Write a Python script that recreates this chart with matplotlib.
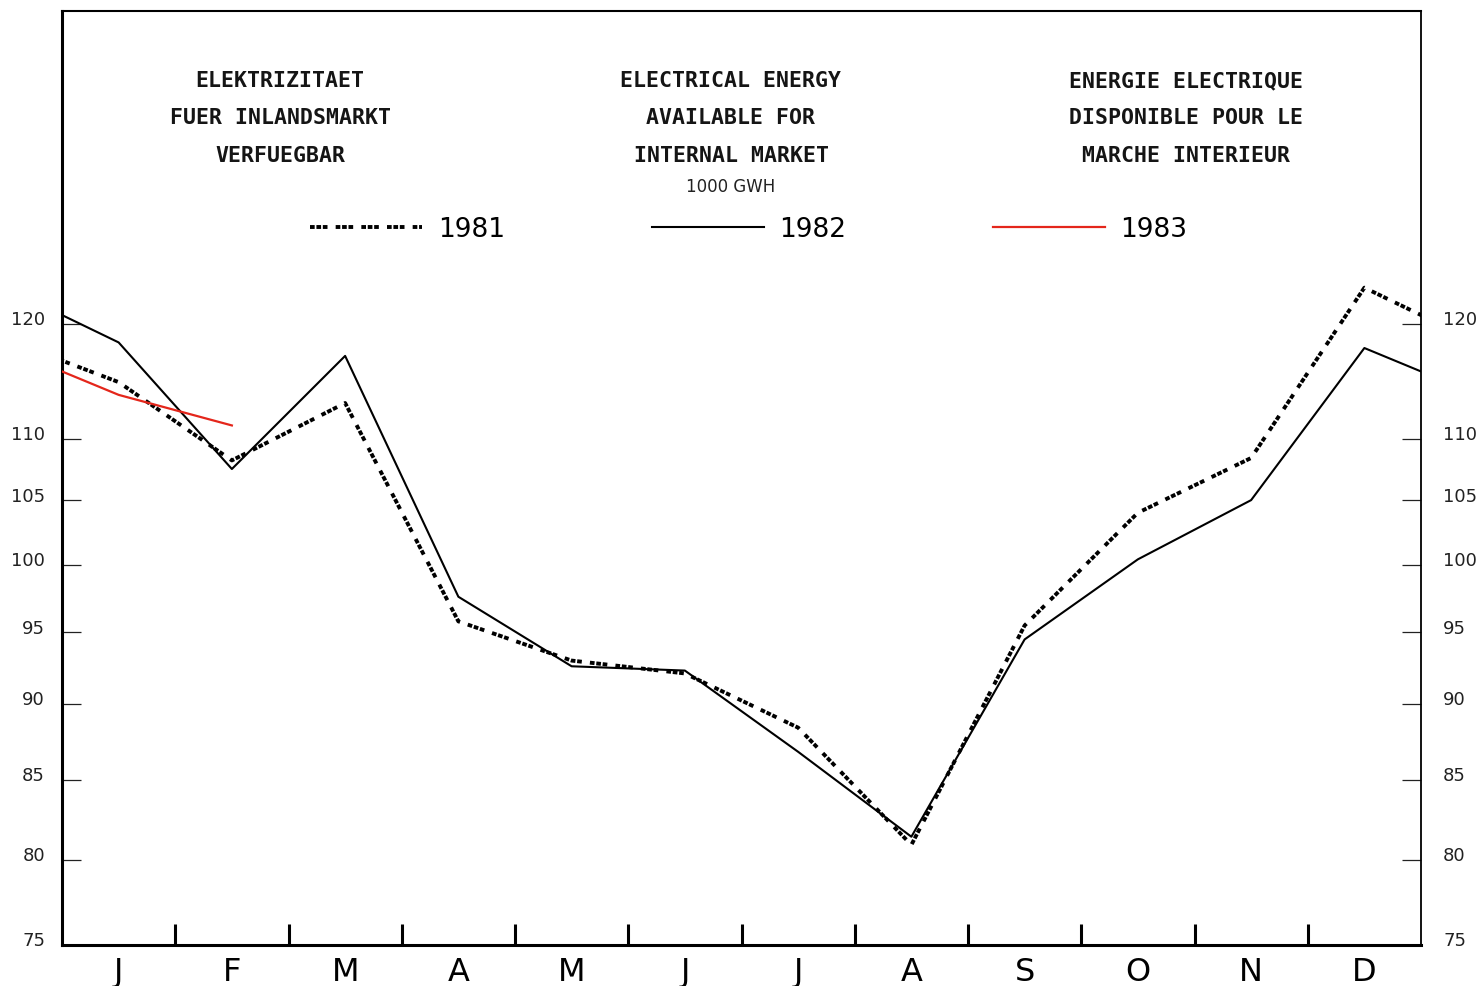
import numpy as np
import matplotlib
matplotlib.use("Agg")
import matplotlib.pyplot as plt
import matplotlib.transforms as mtransforms
from matplotlib.ticker import FixedLocator, NullLocator, NullFormatter

# ---------------- data ----------------
months = ['J', 'F', 'M', 'A', 'M', 'J', 'J', 'A', 'S', 'O', 'N', 'D']
# each series: preceding December, Jan..Dec, following January (1000 GWh)
v1981 = [118.6, 114.8, 108.2, 113.0, 95.8, 93.0, 92.1, 88.4, 80.9, 95.5, 104.0, 108.4, 123.3, 118.3]
v1982 = [123.3, 118.3, 107.5, 117.1, 97.6, 92.6, 92.3, 86.8, 81.4, 94.5, 100.4, 105.0, 117.8, 113.7]
v1983 = [117.8, 113.7, 111.1]
ytick_values = [75, 80, 85, 90, 95, 100, 105, 110, 120]
ytick_labels = ['75', '80', '85', '90', '95', '100', '105', '110', '120']
series_labels = ['1981', '1982', '1983']

title_de = ['ELEKTRIZITAET', 'FUER INLANDSMARKT', 'VERFUEGBAR']
title_en = ['ELECTRICAL ENERGY', 'AVAILABLE FOR', 'INTERNAL MARKET']
title_fr = ['ENERGIE ELECTRIQUE', 'DISPONIBLE POUR LE', 'MARCHE INTERIEUR']
unit_text = '1000 GWH'

# ---------------- figure ----------------
W, H = 1478, 987
fig = plt.figure(figsize=(W / 100, H / 100), dpi=100)
fig.patch.set_facecolor('white')
ax = fig.add_axes([62 / W, 1 - 946 / H, (1421 - 62) / W, (946 - 12) / H])

def xs(vals):
    return np.arange(-1, len(vals) - 1)

l82, = ax.plot(xs(v1982), v1982, color='black', lw=1.5, zorder=3)
l81, = ax.plot(xs(v1981), v1981, color='black', lw=2.8, zorder=4,
               dashes=(1.2, 0.45, 1.2, 0.45, 1.2, 2.1), dash_capstyle='butt')
l83, = ax.plot(xs(v1983), v1983, color='#e4261b', lw=1.6, zorder=5)

ax.set_xlim(-0.5, 11.5)
ax.set_yscale('log')
ax.set_ylim(75, 152)

# y ticks both sides (marks), labels as text slightly above the marks
ax.yaxis.set_major_locator(FixedLocator(ytick_values))
ax.yaxis.set_major_formatter(NullFormatter())
ax.yaxis.set_minor_locator(NullLocator())
ax.yaxis.set_minor_formatter(NullFormatter())
ax.tick_params(axis='y', which='major', left=True, right=True, labelleft=False,
               labelright=False, direction='in', length=14, width=0.9,
               colors='#222222')

blend = mtransforms.blended_transform_factory(ax.transAxes, ax.transData)
off_l = mtransforms.ScaledTranslation(-0.17, 0.045, fig.dpi_scale_trans)
off_r = mtransforms.ScaledTranslation(0.22, 0.045, fig.dpi_scale_trans)
for v, s in zip(ytick_values, ytick_labels):
    ax.text(0, v, s, transform=blend + off_l, ha='right', va='center',
            fontsize=13, color='#222222', clip_on=False)
    ax.text(1, v, s, transform=blend + off_r, ha='left', va='center',
            fontsize=13, color='#222222', clip_on=False)

# x ticks: boundaries (marks) and centers (labels)
ax.set_xticks(np.arange(0.5, 11, 1.0))
ax.set_xticklabels([])
ax.set_xticks(np.arange(12), labels=months, minor=True)
ax.tick_params(axis='x', which='major', direction='in', length=15, width=2.2,
               bottom=True, top=False)
ax.tick_params(axis='x', which='minor', length=0, pad=8, labelsize=23)

for side, lw in [('left', 2.2), ('bottom', 2.2), ('top', 1.5), ('right', 1.3)]:
    ax.spines[side].set_linewidth(lw)
    ax.spines[side].set_color('black')

# ---------------- titles ----------------
title_kw = dict(family='DejaVu Sans Mono', weight='bold', fontsize=15.5,
                ha='center', va='center', color='#151515')
ys = [81, 118, 156]
for block, xc in [(title_de, 280), (title_en, 731), (title_fr, 1186)]:
    for line, y in zip(block, ys):
        fig.text(xc / W, 1 - y / H, line, **title_kw)
fig.text(731 / W, 1 - 187 / H, unit_text, fontsize=12, ha='center', va='center',
         color='#222222')

# ---------------- legend ----------------
fig.legend([l81, l82, l83], series_labels, loc='center',
           bbox_to_anchor=(749 / W, 1 - 230 / H), ncol=3, frameon=False,
           fontsize=19, handlelength=4.24, handletextpad=0.6,
           columnspacing=5.55, borderpad=0)

fig.savefig('out.png', dpi=100, facecolor='white')
